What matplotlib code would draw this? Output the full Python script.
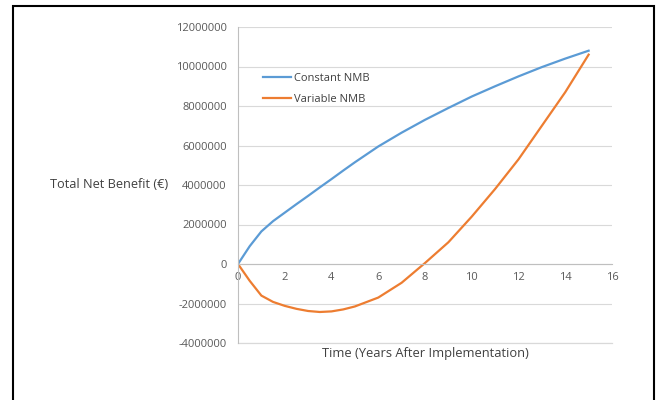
import matplotlib
matplotlib.use("Agg")
import matplotlib.pyplot as plt
from matplotlib.patches import Rectangle

# values
years = [0, 0.5, 1, 1.5, 2, 2.5, 3, 3.5, 4, 4.5, 5, 6, 7, 8, 9, 10, 11, 12, 13, 14, 15]
constant_nmb = [0, 0.9e6, 1.65e6, 2.17e6, 2.6e6, 3.03e6, 3.45e6, 3.88e6, 4.3e6, 4.73e6,
                5.15e6, 5.95e6, 6.65e6, 7.3e6, 7.9e6, 8.48e6, 9.0e6, 9.5e6, 9.97e6,
                10.4e6, 10.8e6]
variable_nmb = [0, -0.85e6, -1.6e6, -1.92e6, -2.12e6, -2.27e6, -2.38e6, -2.43e6, -2.4e6,
                -2.3e6, -2.15e6, -1.7e6, -0.95e6, 0.05e6, 1.1e6, 2.4e6, 3.8e6, 5.3e6,
                7.0e6, 8.7e6, 10.6e6]
x_ticks = [0, 2, 4, 6, 8, 10, 12, 14, 16]
y_ticks = [-4000000, -2000000, 0, 2000000, 4000000, 6000000, 8000000, 10000000, 12000000]

plt.rcParams["font.family"] = ["Open Sans", "DejaVu Sans"]

W, H = 657, 400
fig = plt.figure(figsize=(W / 100, H / 100), dpi=100)
ax = fig.add_axes([238 / W, 1 - 343 / H, (612 - 238) / W, (343 - 27) / H])

blue = "#5B9BD5"
orange = "#ED7D31"
grid_c = "#D9D9D9"
axis_c = "#BFBFBF"
text_c = "#595959"

ax.plot(years, constant_nmb, color=blue, linewidth=1.6, label="Constant NMB")
ax.plot(years, variable_nmb, color=orange, linewidth=1.6, label="Variable NMB")

ax.set_xlim(0, 16)
ax.set_ylim(-4000000, 12000000)
ax.set_xticks(x_ticks)
ax.set_yticks(y_ticks)
ax.set_yticklabels([str(v) for v in y_ticks])
ax.grid(True, axis="y", color=grid_c, linewidth=0.8)
# bottom gridline sits on the axes edge, draw it unclipped
ax.axhline(y_ticks[0], color=grid_c, linewidth=0.9, clip_on=False, zorder=0.5)
ax.set_axisbelow(True)

for side in ["top", "right"]:
    ax.spines[side].set_visible(False)
ax.spines["bottom"].set_position(("data", 0))
ax.spines["bottom"].set_color(axis_c)
ax.spines["left"].set_color(axis_c)
ax.spines["bottom"].set_linewidth(0.8)
ax.spines["left"].set_linewidth(0.8)
ax.tick_params(axis="both", length=0, labelsize=8, labelcolor=text_c)
ax.tick_params(axis="y", pad=8)
ax.tick_params(axis="x", pad=6)

fig.text(50 / W, 1 - 185 / H, "Total Net Benefit (\u20ac)", fontsize=9.2,
         color="#404040", ha="left", va="center")
fig.text(425 / W, 1 - 354 / H, "Time (Years After Implementation)", fontsize=9.3,
         color="#404040", ha="center", va="center")

leg = ax.legend(loc="upper left", bbox_to_anchor=(0.055, 0.87), frameon=False,
                fontsize=8, handlelength=2.5, handletextpad=0.3, labelspacing=0.95,
                borderaxespad=0)
for t in leg.get_texts():
    t.set_color("#404040")

fig.patches.append(Rectangle((13 / W, -0.1), (654 - 13) / W, 1.1 - 6 / H,
                             transform=fig.transFigure, fill=False,
                             edgecolor="black", linewidth=1.5))

fig.savefig("out.png", dpi=100)
